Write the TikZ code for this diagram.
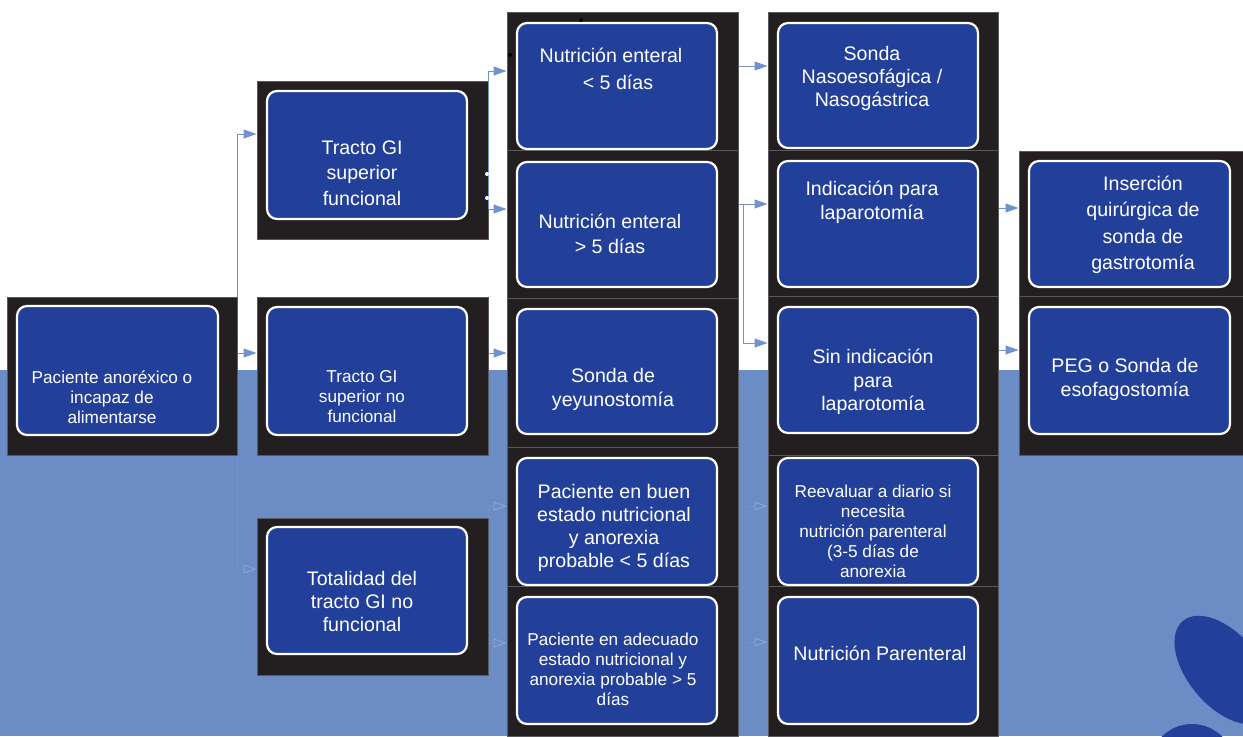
\documentclass[tikz,border=0pt]{standalone}
\usepackage{fontspec}
\setmainfont{Liberation Sans}
\usetikzlibrary{fit,arrows.meta}

\definecolor{cellblack}{HTML}{231F20}
\definecolor{boxblue}{HTML}{22409A}
\definecolor{pageblue}{HTML}{6C8CC6}
\definecolor{linkblue}{HTML}{7093CF}
\definecolor{linkfaint}{HTML}{8FA8D9}
\definecolor{rulegray}{HTML}{5A5A5E}

\tikzset{
  cell/.style={fill=cellblack, draw=rulegray, line width=0.5pt, inner sep=0pt},
  card/.style={fill=boxblue, draw=white, line width=1.1pt, rounded corners=5pt, inner sep=0pt},
  cardtext/.style={text=white, align=center, inner sep=0pt, font=\fontsize{9.8}{#1}\selectfont},
  cardtext/.default=12,
  smalltext/.style={text=white, align=center, inner sep=0pt, font=\fontsize{8.6}{10}\selectfont},
  link/.style={draw=linkblue, line width=0.5pt, -{Triangle[length=6.5pt,width=4.5pt]}},
  faintlink/.style={draw=pageblue!96!white, line width=0.4pt,
    -{Triangle[open,length=6.5pt,width=4.5pt,color=linkfaint]}},
}

\begin{document}
\begin{tikzpicture}[x=0.5pt, y=-0.5pt]
  \useasboundingbox (0,0) rectangle (1243,736);
  \fill[white] (0,0) rectangle (1243,370);
  \fill[pageblue] (0,370) rectangle (1243,736);

  % blobs bottom right
  \fill[boxblue] (1224,670) ellipse [x radius=64, y radius=36, rotate=-50];
  \fill[boxblue] (1192,770) ellipse [x radius=44, y radius=46];

  % black cells
  \node[cell, fit={(7,297) (237,455)}] (A) {};
  \node[cell, fit={(257,81) (488,239)}] (B1) {};
  \node[cell, fit={(257,297) (488,455)}] (B2) {};
  \node[cell, fit={(257,518) (488,675)}] (B3) {};
  \node[cell, fit={(507,12) (738,150)}] (C1) {};
  \node[cell, fit={(507,150) (738,298)}] (C2) {};
  \node[cell, fit={(507,298) (738,447)}] (C3) {};
  \node[cell, fit={(507,447) (738,586)}] (C4) {};
  \node[cell, fit={(507,586) (738,736)}] (C5) {};
  \node[cell, fit={(768,12) (998,150)}] (D1) {};
  \node[cell, fit={(768,150) (998,296)}] (D2) {};
  \node[cell, fit={(768,296) (998,455)}] (D3) {};
  \node[cell, fit={(768,455) (998,586)}] (D4) {};
  \node[cell, fit={(768,586) (998,736)}] (D5) {};
  \node[cell, fit={(1019,151) (1243,296)}] (E1) {};
  \node[cell, fit={(1019,296) (1243,455)}] (E2) {};

  % blue cards
  \node[card, fit={(17,306) (218,435)}] (cardA) {};
  \node[card, fit={(267,91) (467,219)}] (cardB1) {};
  \node[card, fit={(267,307) (467,435)}] (cardB2) {};
  \node[card, fit={(267,527) (467,654)}] (cardB3) {};
  \node[card, fit={(517,23) (717,149)}] (cardC1) {};
  \node[card, fit={(517,162) (717,287)}] (cardC2) {};
  \node[card, fit={(517,309) (717,434)}] (cardC3) {};
  \node[card, fit={(517,458) (717,585)}] (cardC4) {};
  \node[card, fit={(517,597) (717,724)}] (cardC5) {};
  \node[card, fit={(778,23) (978,148)}] (cardD1) {};
  \node[card, fit={(778,161) (978,287)}] (cardD2) {};
  \node[card, fit={(778,307) (978,433)}] (cardD3) {};
  \node[card, fit={(778,458) (978,585)}] (cardD4) {};
  \node[card, fit={(778,597) (978,724)}] (cardD5) {};
  \node[card, fit={(1029,161) (1230,287)}] (cardE1) {};
  \node[card, fit={(1029,307) (1230,434)}] (cardE2) {};

  % texts
  \node[smalltext] (tA) at (112,397) {Paciente anoréxico o\\incapaz de\\alimentarse};
  \node[cardtext=12.7] (tB1) at (362,173) {Tracto GI\\superior\\funcional};
  \node[smalltext] (tB2) at (362,397) {Tracto GI\\superior no\\funcional};
  \node[cardtext=11.5] (tB3) at (362,601) {Totalidad del\\tracto GI no\\funcional};
  \node[cardtext=13.5] (tC1) at (611,69) {Nutrición enteral\\\hspace*{7pt}< 5 días};
  \node[cardtext=12.5] (tC2) at (610,234) {Nutrición enteral\\> 5 días};
  \node[cardtext] (tC3) at (613,389) {Sonda de\\yeyunostomía};
  \node[cardtext=11.5] (tC4) at (614,528) {Paciente en buen\\estado nutricional\\y anorexia\\probable < 5 días};
  \node[smalltext] (tC5) at (613,669) {Paciente en adecuado\\estado nutricional y\\anorexia probable > 5\\días};
  \node[cardtext=11.5] (tD1) at (872,78) {Sonda\\Nasoesofágica /\\Nasogástrica};
  \node[cardtext] (tD2) at (872,202) {Indicación para\\laparotomía};
  \node[cardtext=11.7] (tD3) at (873,382) {Sin indicación\\para\\laparotomía};
  \node[smalltext] (tD4) at (873,531) {Reevaluar a diario si\\necesita\\nutrición parenteral\\(3-5 días de\\anorexia};
  \node[cardtext] (tD5) at (880,653) {Nutrición Parenteral};
  \node[cardtext=13.2] (tE1) at (1143,225) {Inserción\\quirúrgica de\\sonda de\\gastrotomía};
  \node[cardtext] (tE2) at (1125,379) {PEG o Sonda de\\esofagostomía};

  % connectors
  \draw[link] (A.north east) |- ([yshift=13pt]B1.west);
  \draw[link] ([yshift=11.5pt]A.east) -- ([yshift=11.5pt]B2.west);
  \draw[faintlink] (A.south east) |- ([yshift=13.75pt]B3.west);
  \draw[link] ([yshift=-24.5pt]B1.east) |- ([yshift=5pt]C1.west);
  \draw[link] ([yshift=-24.5pt]B1.east) -- ([yshift=7.5pt]C2.west);
  \draw[link] ([yshift=11.5pt]B2.east) -- ([yshift=9.75pt]C3.west);
  \draw[faintlink] (B3.north east) |- ([yshift=5.25pt]C4.west);
  \draw[faintlink] ([yshift=-23.25pt]B3.east) -- ([yshift=9pt]C5.west);
  \draw[link] ([yshift=7.5pt]C1.east) -- ([yshift=7.5pt]D1.west);
  \draw[link] ([yshift=10pt]C2.east) -- ([yshift=9.5pt]D2.west);
  \draw[link] ([yshift=10pt]C2.east) -- ++(5,0) |- ([yshift=16.25pt]D3.west);
  \draw[faintlink] ([yshift=5.25pt]C4.east) -- ([yshift=7.25pt]D4.west);
  \draw[faintlink] ([yshift=9.5pt]C5.east) -- ([yshift=9.5pt]D5.west);
  \draw[link] ([yshift=7.5pt]D2.east) -- ([yshift=7.75pt]E1.west);
  \draw[link] ([yshift=12.75pt]D3.east) -- ([yshift=12.75pt]E2.west);

  % stray dots
  \fill (581,20) circle[radius=2];
  \fill (510,55) circle[radius=2];
  \fill[white] (487,174) circle[radius=2];
  \fill[white] (487,198) circle[radius=2];
\end{tikzpicture}
\end{document}
